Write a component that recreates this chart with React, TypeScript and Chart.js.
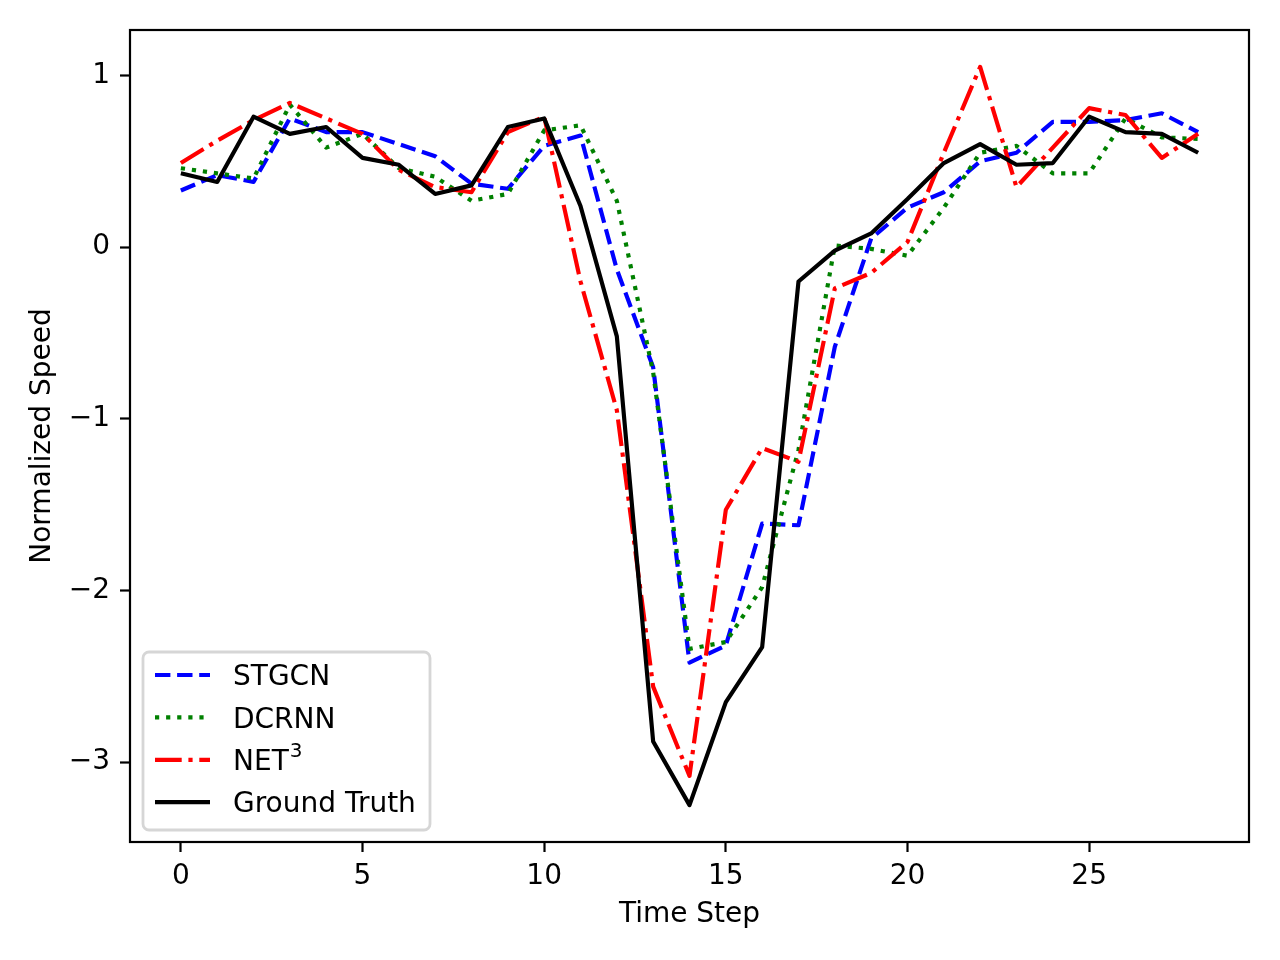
import { useRef, useEffect } from "react";
import { Chart, registerables, type ChartConfiguration, type Plugin } from "chart.js";

Chart.register(...registerables);

const steps = [0, 1, 2, 3, 4, 5, 6, 7, 8, 9, 10, 11, 12, 13, 14, 15, 16, 17, 18, 19, 20, 21, 22, 23, 24, 25, 26, 27, 28];
const stgcn = [0.33, 0.42, 0.38, 0.75, 0.67, 0.67, 0.6, 0.53, 0.37, 0.34, 0.59, 0.65, -0.13, -0.7, -2.42, -2.32, -1.61, -1.62, -0.58, 0.05, 0.23, 0.32, 0.5, 0.55, 0.73, 0.73, 0.74, 0.78, 0.67];
const dcrnn = [0.46, 0.43, 0.4, 0.83, 0.58, 0.66, 0.46, 0.41, 0.27, 0.31, 0.68, 0.71, 0.27, -0.73, -2.34, -2.3, -1.98, -1.18, 0.01, -0.01, -0.05, 0.23, 0.55, 0.59, 0.43, 0.43, 0.75, 0.64, 0.63];
const net3 = [0.49, 0.62, 0.74, 0.84, 0.75, 0.66, 0.45, 0.35, 0.32, 0.67, 0.76, -0.2, -0.95, -2.56, -3.08, -1.53, -1.17, -1.25, -0.24, -0.15, 0.03, 0.55, 1.05, 0.35, 0.58, 0.81, 0.77, 0.52, 0.66];
const truth = [0.43, 0.38, 0.76, 0.66, 0.7, 0.52, 0.48, 0.31, 0.36, 0.7, 0.75, 0.24, -0.52, -2.88, -3.25, -2.65, -2.33, -0.2, -0.02, 0.08, 0.28, 0.49, 0.6, 0.48, 0.49, 0.76, 0.67, 0.66, 0.55];

// label text plus an optional superscript part (NET^3)
const seriesNames = ["STGCN", "DCRNN", "NET", "Ground Truth"];
const seriesSup = ["", "", "3", ""];
const xTicks = [0, 5, 10, 15, 20, 25];
const yTicks = [-3, -2, -1, 0, 1];

const FONT = "'DejaVu Sans', sans-serif";
const LW = 4.17;

const toPoints = (ys: number[]) => steps.map((x, i) => ({ x, y: ys[i] }));

// full black frame around the plot area, like matplotlib spines
const framePlugin: Plugin = {
  id: "frame",
  afterDraw(chart) {
    const { ctx, chartArea } = chart;
    ctx.save();
    ctx.strokeStyle = "#000";
    ctx.lineWidth = 2.2;
    ctx.strokeRect(chartArea.left, chartArea.top, chartArea.right - chartArea.left, chartArea.bottom - chartArea.top);
    ctx.restore();
  },
};

// legend box in the lower left corner
const legendPlugin: Plugin = {
  id: "mplLegend",
  afterDatasetsDraw(chart) {
    const { ctx, chartArea } = chart;
    const x0 = chartArea.left + 13;
    const y1 = chartArea.bottom - 12;
    const w = 287;
    const h = 178;
    const y0 = y1 - h;
    ctx.save();
    ctx.beginPath();
    ctx.roundRect(x0, y0, w, h, 6);
    ctx.fillStyle = "rgba(255,255,255,0.8)";
    ctx.fill();
    ctx.strokeStyle = "#d6d6d6";
    ctx.lineWidth = 2.8;
    ctx.stroke();
    ctx.textBaseline = "middle";
    chart.data.datasets.forEach((ds: any, i: number) => {
      const y = y0 + 23 + i * 42.4;
      ctx.beginPath();
      ctx.setLineDash(ds.borderDash || []);
      ctx.lineWidth = LW;
      ctx.lineCap = "butt";
      ctx.strokeStyle = ds.borderColor;
      ctx.moveTo(x0 + 12, y);
      ctx.lineTo(x0 + 67, y);
      ctx.stroke();
      ctx.setLineDash([]);
      ctx.fillStyle = "#000";
      ctx.font = `28px ${FONT}`;
      ctx.fillText(ds.label, x0 + 90, y + 3);
      if (seriesSup[i]) {
        const tw = ctx.measureText(ds.label).width;
        ctx.font = `20px ${FONT}`;
        ctx.fillText(seriesSup[i], x0 + 91 + tw, y - 8);
      }
    });
    ctx.restore();
  },
};

export default function App() {
  const chartRef = useRef<HTMLCanvasElement | null>(null);
  const chartInstanceRef = useRef<Chart | null>(null);

  useEffect(() => {
    if (!chartRef.current) return;
    const ctx = chartRef.current.getContext("2d");
    if (!ctx) return;
    if (chartInstanceRef.current) chartInstanceRef.current.destroy();

    const line = (label: string, ys: number[], color: string, dash: number[], order: number) => ({
      label,
      data: toPoints(ys),
      borderColor: color,
      backgroundColor: color,
      borderWidth: LW,
      borderDash: dash,
      borderCapStyle: "butt" as const,
      borderJoinStyle: "round" as const,
      pointRadius: 0,
      tension: 0,
      fill: false,
      order,
    });

    const config: ChartConfiguration = {
      type: "line",
      data: {
        datasets: [
          line(seriesNames[0], stgcn, "#0000ff", [15.4, 6.7], 4),
          line(seriesNames[1], dcrnn, "#008000", [4.2, 6.9], 3),
          line(seriesNames[2], net3, "#ff0000", [26.7, 6.7, 4.2, 6.7], 2),
          line(seriesNames[3], truth, "#000000", [], 1),
        ] as any,
      },
      options: {
        animation: false,
        responsive: false,
        devicePixelRatio: 1,
        layout: { padding: { left: 0, top: 30, right: 31, bottom: 0 } },
        plugins: {
          legend: { display: false },
          tooltip: { enabled: false },
        },
        scales: {
          x: {
            type: "linear",
            min: -1.4,
            max: 29.4,
            afterBuildTicks: (scale) => {
              scale.ticks = xTicks.map((v) => ({ value: v }));
            },
            afterFit: (scale) => {
              scale.height = 118;
            },
            grid: { display: true, drawOnChartArea: false, drawTicks: true, tickLength: 10, tickColor: "#000", tickWidth: 2.2 },
            border: { display: false },
            ticks: {
              color: "#000",
              font: { family: FONT, size: 28 },
              padding: 8,
              maxRotation: 0,
              autoSkip: false,
              callback: (v) => String(v),
            },
            title: {
              display: true,
              text: "Time Step",
              color: "#000",
              font: { family: FONT, size: 28, lineHeight: 1.2 },
              padding: { top: 0, bottom: 28 },
            },
          },
          y: {
            type: "linear",
            min: -3.465,
            max: 1.265,
            afterBuildTicks: (scale) => {
              scale.ticks = yTicks.map((v) => ({ value: v }));
            },
            afterFit: (scale) => {
              scale.width = 130;
            },
            grid: { display: true, drawOnChartArea: false, drawTicks: true, tickLength: 10, tickColor: "#000", tickWidth: 2.2 },
            border: { display: false },
            ticks: {
              color: "#000",
              font: { family: FONT, size: 28 },
              padding: 10,
              autoSkip: false,
              callback: (v) => (Number(v) < 0 ? "\u2212" + Math.abs(Number(v)) : String(v)),
            },
            title: {
              display: true,
              text: "Normalized Speed",
              color: "#000",
              font: { family: FONT, size: 28, lineHeight: 1.2 },
              padding: { top: 26, bottom: 0 },
            },
          },
        },
      },
      plugins: [legendPlugin, framePlugin],
    };

    chartInstanceRef.current = new Chart(ctx, config);

    return () => {
      if (chartInstanceRef.current) {
        chartInstanceRef.current.destroy();
        chartInstanceRef.current = null;
      }
    };
  }, []);

  return (
    <div style={{ position: "absolute", left: 0, top: 0, width: 1280, height: 960, background: "#fff" }}>
      <canvas ref={chartRef} width={1280} height={960} />
    </div>
  );
}
